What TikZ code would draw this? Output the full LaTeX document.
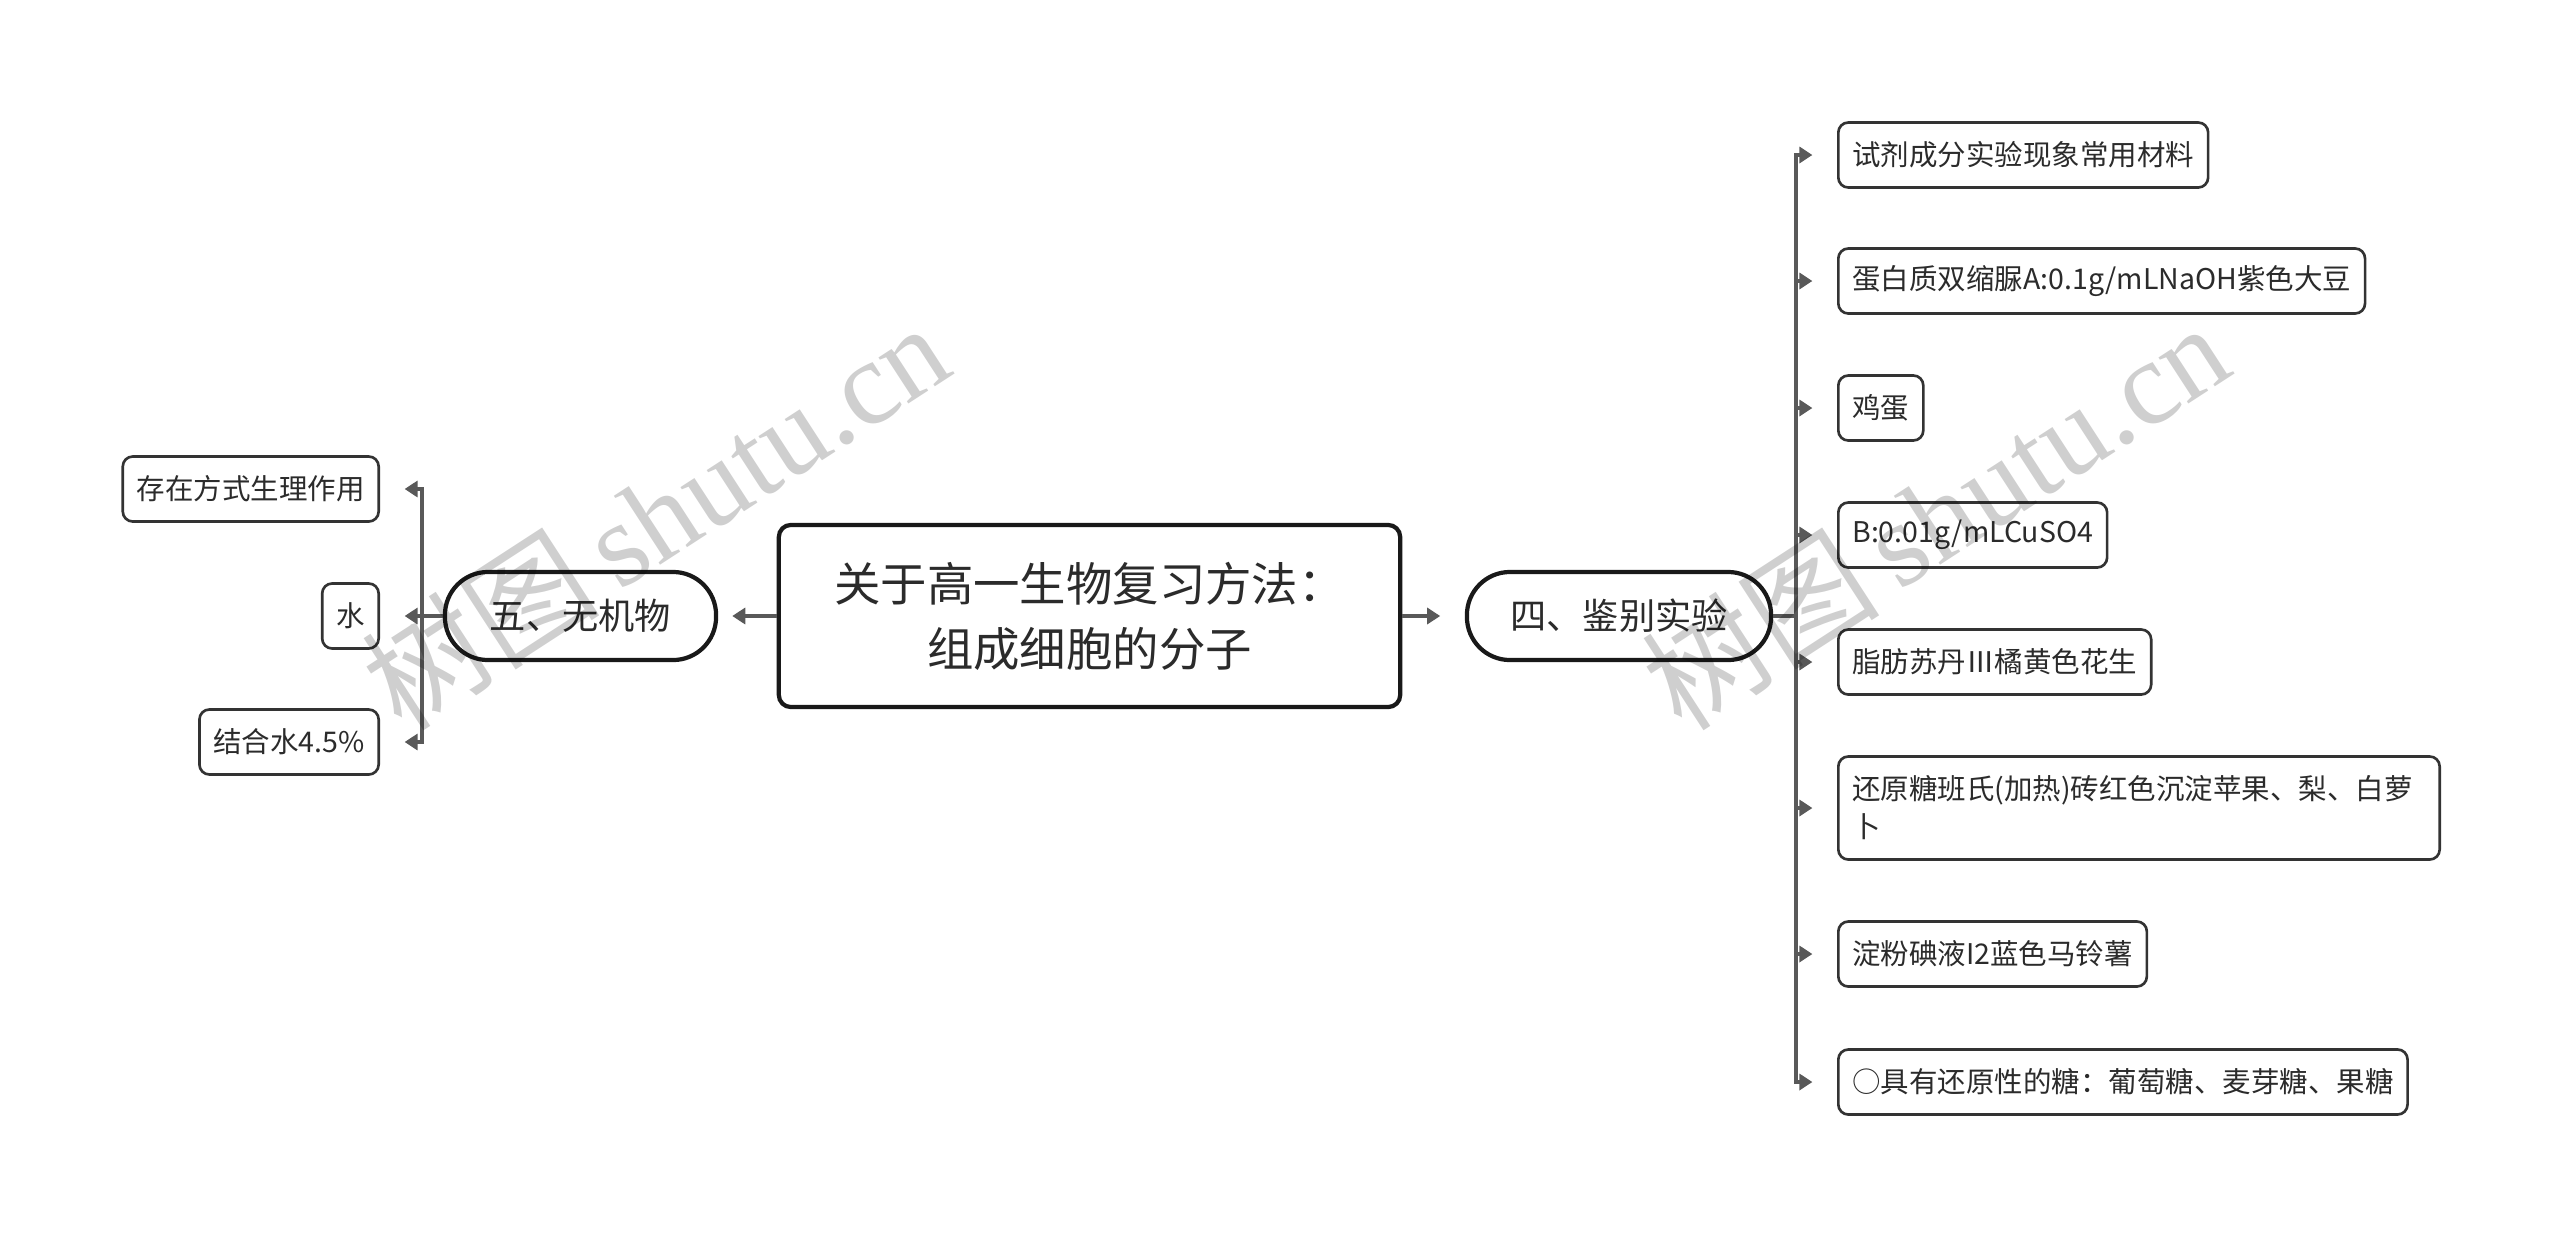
\documentclass[tikz,border=0pt]{standalone}
\usepackage{fontspec}
\setmainfont{Noto Sans CJK SC}
\newfontfamily\wmserif{Liberation Serif}
\usetikzlibrary{arrows.meta}
\definecolor{textc}{HTML}{2B2B2B}
\definecolor{boxc}{HTML}{333333}
\definecolor{connc}{HTML}{595959}
\tikzset{
  leaf/.style={draw=boxc, line width=0.75pt, rounded corners=0.1cm, fill=white, text=textc,
    font=\fontsize{8.1}{10.8}\selectfont, inner xsep=0.14cm, inner ysep=0.05cm, minimum height=0.65cm},
  topic/.style={draw=black!90, line width=1.2pt, rounded corners=0.43cm, fill=white, text=textc,
    font=\fontsize{10.3}{13}\selectfont, minimum height=0.88cm},
  rootbox/.style={draw=black!90, line width=1.2pt, rounded corners=0.12cm, fill=white, text=textc,
    font=\fontsize{13.2}{18.5}\selectfont, align=center, minimum width=6.21cm, minimum height=1.82cm},
  conn/.style={draw=connc, line width=1.1pt},
  arr/.style={conn, -{Triangle[length=0.13cm,width=0.16cm]}},
  wmark/.style={rotate=33, text=black, text opacity=0.19, font=\fontsize{34}{36}\selectfont}
}
\begin{document}
\begin{tikzpicture}[x=0.01cm, y=-0.01cm]
\fill[white] (0,0) rectangle (2560,1233);
\useasboundingbox (0,0) rectangle (2560,1233);

% root and main topics
\node[rootbox] (root) at (1089.5,616) {关于高一生物复习方法：\\组成细胞的分子};
\node[topic, minimum width=2.71cm] (wu) at (580.5,616) {五、无机物};
\node[topic, minimum width=3.04cm] (si) at (1619,616) {四、鉴别实验};

% left leaves
\node[leaf, anchor=east] (l1) at (380,489) {存在方式生理作用};
\node[leaf, anchor=east] (l2) at (380,616) {水};
\node[leaf, anchor=east] (l3) at (380,742) {结合水4.5\%};

% right leaves
\node[leaf, anchor=west] (r1) at (1837,155) {试剂成分实验现象常用材料};
\node[leaf, anchor=west] (r2) at (1837,281) {蛋白质双缩脲A:0.1g/mLNaOH紫色大豆};
\node[leaf, anchor=west] (r3) at (1837,408) {鸡蛋};
\node[leaf, anchor=west] (r4) at (1837,535) {B:0.01g/mLCuSO4};
\node[leaf, anchor=west] (r5) at (1837,662) {脂肪苏丹Ⅲ橘黄色花生};
\node[leaf, anchor=west, align=left, text width=5.73cm, minimum height=1.03cm] (r6) at (1837,808) {还原糖班氏(加热)砖红色沉淀苹果、梨、白萝\\卜};
\node[leaf, anchor=west] (r7) at (1837,954) {淀粉碘液I2蓝色马铃薯};
\node[leaf, anchor=west] (r8) at (1837,1082) {○具有还原性的糖：葡萄糖、麦芽糖、果糖};

% junctions
\coordinate (lj) at (422,616);
\coordinate (rj) at (1796,616);

% connectors
\draw[arr, shorten >=4] (root.west) -- (wu.east);
\draw[arr, shorten >=7] (root.east) -- (si.west);

\draw[conn] (wu.west) -- (lj);
\draw[arr, shorten >=7] (lj) |- (l1.east);
\draw[arr, shorten >=7] (lj) -- (l2.east);
\draw[arr, shorten >=7] (lj) |- (l3.east);

\draw[conn] (si.east) -- (rj);
\foreach \n in {r1,r2,r3,r4,r5,r6,r7,r8}{
  \draw[arr, shorten >=7] (rj) |- (\n.west);
}

% watermarks
\node[wmark] (wm1) at (655,515) {树图\,{\wmserif shutu.cn}};
\node[wmark] (wm2) at (1935,515) {树图\,{\wmserif shutu.cn}};
\end{tikzpicture}
\end{document}
